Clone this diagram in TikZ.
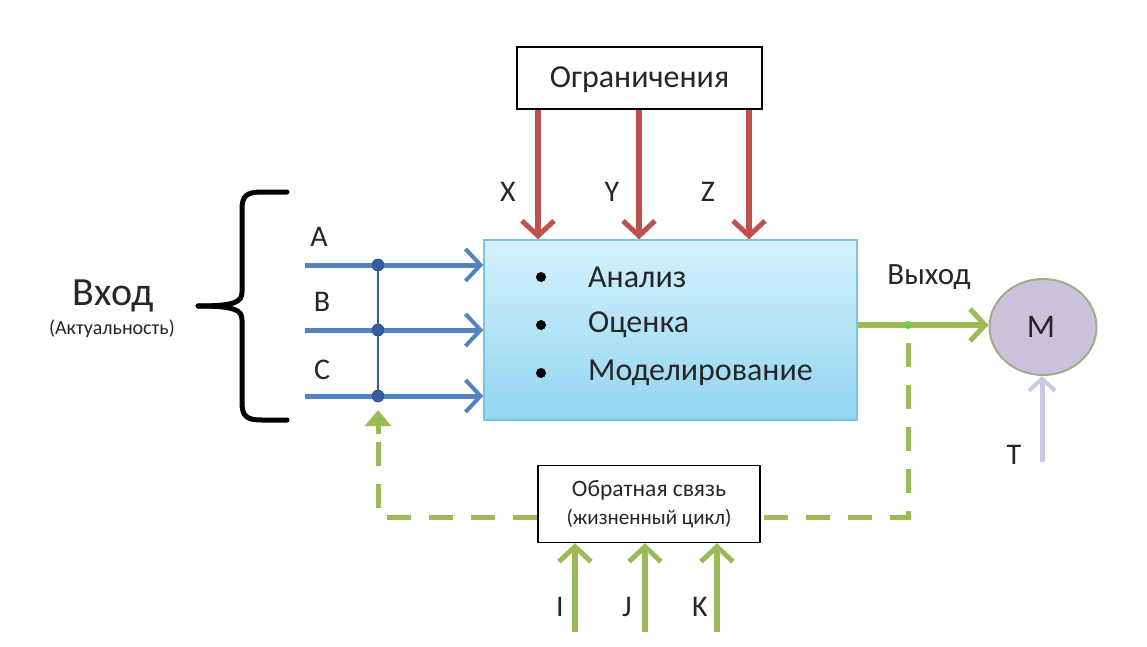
\documentclass[tikz,border=0pt]{standalone}
\usepackage{fontspec}
\setmainfont{Carlito}
\usetikzlibrary{arrows.meta,shapes.geometric,calc}
\definecolor{cblue}{HTML}{5383C0}
\definecolor{cdot}{HTML}{345E9C}
\definecolor{cred}{HTML}{C0504D}
\definecolor{cgreen}{HTML}{9BBB59}
\definecolor{clav}{HTML}{CCC1DA}
\definecolor{clavarr}{HTML}{CFC8E2}
\definecolor{cmborder}{HTML}{A2AC8A}
\definecolor{cboxtop}{HTML}{D4F2FC}
\definecolor{cboxbot}{HTML}{92D5F1}
\definecolor{cboxline}{HTML}{7CC3E2}
\tikzset{
  fs/.style={font=\fontsize{#1}{#1}\selectfont},
  plainbox/.style={draw=black, line width=1.5pt, fill=white, inner sep=0pt},
  bluearr/.style={draw=cblue, line width=5pt, -{Straight Barb[length=15pt,width=32pt,line width=4pt]}},
  redarr/.style={draw=cred, line width=6pt, -{Straight Barb[length=15pt,width=32pt,line width=5pt]}},
  greenarr/.style={draw=cgreen, line width=6pt, -{Straight Barb[length=15pt,width=32pt,line width=5pt]}},
  lavarr/.style={draw=clavarr, line width=5pt, -{Straight Barb[length=12pt,width=26pt,line width=4pt]}},
  fbdash/.style={draw=cgreen, line width=5pt, dash pattern=on 24pt off 18pt},
  jdot/.style={circle, fill=cdot, draw=cdot!80!black, inner sep=0pt, minimum size=12pt},
  lbl/.style={fs=30, text=black!85, inner sep=0pt},
}
\begin{document}
\begin{tikzpicture}[x=1pt,y=-1pt]
\useasboundingbox[fill=white] (0,0) rectangle (1147,647);

% main box
\node[draw=cboxline, line width=1.5pt, top color=cboxtop, bottom color=cboxbot,
      minimum width=373pt, minimum height=180pt, inner sep=0pt] (main) at (670.5,330) {};
\foreach \yy/\tt/\nm in {277/Анализ/t1, 325/Оценка/t2, 373/Моделирование/t3}{
  \node[circle, fill=black, inner sep=0pt, minimum size=10pt] (b\nm) at (541,\yy) {};
  \node[lbl, fs=32, anchor=west] (\nm) at (588,\yy) {\tt};
}

% constraints box
\node[plainbox, minimum width=245pt, minimum height=62pt] (ogr) at (639.5,78) {};
\node[lbl, fs=32] (ogrt) at (639.5,80) {Ограничения};
\coordinate (xX) at (538,0);
\coordinate (xY) at (639,0);
\coordinate (xZ) at (749,0);
\draw[redarr] (ogr.south -| xX) -- (main.north -| xX);
\draw[redarr] (ogr.south -| xY) -- (main.north -| xY);
\draw[redarr] (ogr.south -| xZ) -- (main.north -| xZ);
\node[lbl] (lX) at (508,192) {X};
\node[lbl] (lY) at (612,192) {Y};
\node[lbl] (lZ) at (708,192) {Z};

% inputs
\coordinate (sA) at (305,265);
\coordinate (sB) at (305,330);
\coordinate (sC) at (305,396);
\node[jdot] (dA) at (378,265) {};
\node[jdot] (dB) at (378,330) {};
\node[jdot] (dC) at (378,396) {};
\draw[cdot, line width=1.5pt] (dA) -- (dB) -- (dC);
\draw[bluearr] (sA) -- (main.west |- sA);
\draw[bluearr] (sB) -- (main.west |- sB);
\draw[bluearr] (sC) -- (main.west |- sC);
\node[jdot] at (dA) {};
\node[jdot] at (dB) {};
\node[jdot] at (dC) {};
\node[lbl] (lA) at (319,237) {A};
\node[lbl] (lB) at (322,302) {B};
\node[lbl] (lC) at (322,370) {C};

% brace
\draw[line width=5pt, line cap=round] (287,192) -- (262,192) .. controls (246,192) and (242,196) .. (242,210)
  -- (242,292) .. controls (242,302) and (235,306) .. (198,306);
\draw[line width=5pt, line cap=round] (198,306) .. controls (235,306) and (242,310) .. (242,320)
  -- (242,402) .. controls (242,416) and (246,420) .. (262,420) -- (287,420);
\node[lbl, fs=40] (vhod) at (113,296) {Вход};
\node[lbl, fs=20] (akt) at (112,329) {(Актуальность)};

% output
\node[ellipse, draw=cmborder, line width=2pt, fill=clav, minimum width=107pt, minimum height=96pt, inner sep=0pt] (M) at (1043,327) {};
\node[lbl, fs=33] (Mt) at (1041,327) {M};
\coordinate (dOut) at (908,325);
\draw[greenarr] (main.east |- dOut) -- (M.west |- dOut);
\node[circle, fill=cgreen!70!green, inner sep=0pt, minimum size=8pt] (dO) at (dOut) {};
\node[lbl, fs=31] (vyhod) at (929,277) {Выход};
\coordinate (tS) at (1042,462);
\draw[lavarr] (tS) -- (M.south -| tS);
\node[lbl] (lT) at (1014,455) {T};

% feedback
\node[plainbox, minimum width=222pt, minimum height=77pt] (fb) at (649,504) {};
\node[lbl, fs=23.5] (fb1) at (649,490) {Обратная связь};
\node[lbl, fs=21] (fb2) at (649,519) {(жизненный цикл)};
\draw[fbdash] (dO.south) ++(0,14) |- (fb.east |- 0,517);
\draw[fbdash] (fb.west |- 0,517) -| ($(dC.south)+(0,32)$);
\draw[cgreen, line width=5pt, -{Triangle[length=16pt,width=26pt]}] ($(dC.south)+(0,32)$) -- ($(dC.south)+(0,8)$);
\coordinate (xI) at (575,632);
\coordinate (xJ) at (645,632);
\coordinate (xK) at (717,632);
\draw[greenarr] (xI) -- (fb.south -| xI);
\draw[greenarr] (xJ) -- (fb.south -| xJ);
\draw[greenarr] (xK) -- (fb.south -| xK);
\node[lbl] (lI) at (560,607) {I};
\node[lbl] (lJ) at (627,607) {J};
\node[lbl] (lK) at (700,607) {K};
\end{tikzpicture}
\end{document}
